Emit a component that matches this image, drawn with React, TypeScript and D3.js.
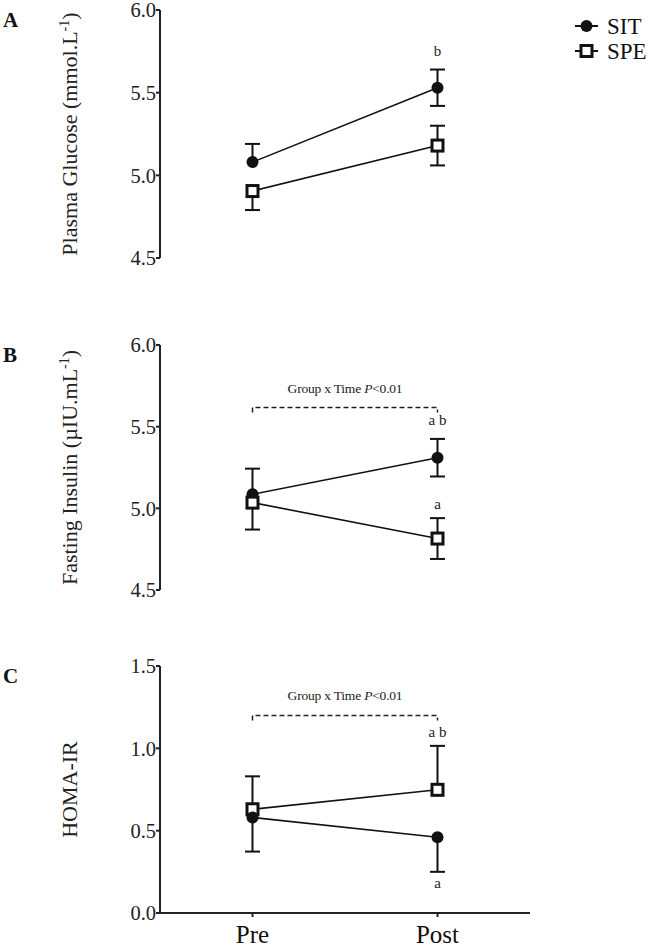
import React from "react";
import * as d3 from "d3";

const categories = ["Pre", "Post"];

// Panel A – Plasma glucose
const glucoseSIT = [5.08, 5.53];
const glucoseSITErr = [0.11, 0.11];
const glucoseSITDir = ["up", "both"];
const glucoseSPE = [4.905, 5.18];
const glucoseSPEErr = [0.115, 0.12];
const glucoseSPEDir = ["down", "both"];
const glucoseTicks = [4.5, 5.0, 5.5, 6.0];

// Panel B – Fasting insulin
const insulinSIT = [5.086, 5.31];
const insulinSITErr = [0.157, 0.115];
const insulinSITDir = ["up", "both"];
const insulinSPE = [5.035, 4.815];
const insulinSPEErr = [0.165, 0.125];
const insulinSPEDir = ["down", "both"];
const insulinTicks = [4.5, 5.0, 5.5, 6.0];

// Panel C – HOMA-IR
const homaSIT = [0.58, 0.46];
const homaSITErr = [0.207, 0.21];
const homaSITDir = ["down", "down"];
const homaSPE = [0.63, 0.748];
const homaSPEErr = [0.2, 0.267];
const homaSPEDir = ["up", "up"];
const homaTicks = [0.0, 0.5, 1.0, 1.5];

const SERIF = "'Liberation Serif', 'Times New Roman', serif";

type Panel = {
  letter: string;
  top: number;
  bottom: number;
  domain: [number, number];
  ticks: number[];
  sit: number[]; sitErr: number[]; sitDir: string[];
  spe: number[]; speErr: number[]; speDir: string[];
  bracket: number | null;
  sitLabels: (string | null)[];
  speLabels: (string | null)[];
  sitLabelBelow?: boolean;
  sitOnTop?: boolean;
  xAxis: boolean;
};

const panels: Panel[] = [
  {
    letter: "A", top: 10, bottom: 258, domain: [4.5, 6.0], ticks: glucoseTicks,
    sit: glucoseSIT, sitErr: glucoseSITErr, sitDir: glucoseSITDir,
    spe: glucoseSPE, speErr: glucoseSPEErr, speDir: glucoseSPEDir,
    bracket: null, sitLabels: [null, "b"], speLabels: [null, null], xAxis: false,
  },
  {
    letter: "B", top: 345, bottom: 590, domain: [4.5, 6.0], ticks: insulinTicks,
    sit: insulinSIT, sitErr: insulinSITErr, sitDir: insulinSITDir,
    spe: insulinSPE, speErr: insulinSPEErr, speDir: insulinSPEDir,
    bracket: 5.617, sitLabels: [null, "a b"], speLabels: [null, "a"], xAxis: false,
  },
  {
    letter: "C", top: 666, bottom: 913, domain: [0, 1.5], ticks: homaTicks,
    sit: homaSIT, sitErr: homaSITErr, sitDir: homaSITDir,
    spe: homaSPE, speErr: homaSPEErr, speDir: homaSPEDir,
    bracket: 1.2, sitLabels: [null, "a"], speLabels: [null, "a b"], sitLabelBelow: true, sitOnTop: true, xAxis: true,
  },
];

const yLabels = [
  <>Plasma Glucose (mmol.L<tspan dy={-8} fontSize={14}>-1</tspan><tspan dy={8}>)</tspan></>,
  <>Fasting Insulin (µIU.mL<tspan dy={-8} fontSize={14}>-1</tspan><tspan dy={8}>)</tspan></>,
  <>HOMA-IR</>,
];

const AXIS_X = 160;
const AXIS_END = 530;

const x = d3.scalePoint<string>().domain(categories).range([AXIS_X, AXIS_END]).padding(0.5);

function ErrorBar({ cx, y, mean, err, dir }: { cx: number; y: d3.ScaleLinear<number, number>; mean: number; err: number; dir: string }) {
  const segs: JSX.Element[] = [];
  const cap = 7.5;
  if (dir === "up" || dir === "both") {
    const yy = y(mean + err);
    segs.push(<line key="u" x1={cx} x2={cx} y1={y(mean)} y2={yy} stroke="#111" strokeWidth={2} />);
    segs.push(<line key="uc" x1={cx - cap} x2={cx + cap} y1={yy} y2={yy} stroke="#111" strokeWidth={2} />);
  }
  if (dir === "down" || dir === "both") {
    const yy = y(mean - err);
    segs.push(<line key="d" x1={cx} x2={cx} y1={y(mean)} y2={yy} stroke="#111" strokeWidth={2} />);
    segs.push(<line key="dc" x1={cx - cap} x2={cx + cap} y1={yy} y2={yy} stroke="#111" strokeWidth={2} />);
  }
  return <g>{segs}</g>;
}

function Circle({ cx, cy }: { cx: number; cy: number }) {
  return <circle cx={cx} cy={cy} r={6} fill="#111" />;
}
function Square({ cx, cy }: { cx: number; cy: number }) {
  const s = 11;
  return <rect x={cx - s / 2} y={cy - s / 2} width={s} height={s} fill="#fff" stroke="#111" strokeWidth={3} />;
}

function PanelView({ p, idx }: { p: Panel; idx: number }) {
  const y = d3.scaleLinear().domain(p.domain).range([p.bottom, p.top]);
  const line = d3.line<number>().x((_, i) => x(categories[i])!).y((v) => y(v));
  const midY = (p.top + p.bottom) / 2;
  const xPre = x(categories[0])!;
  const xPost = x(categories[1])!;
  const circles = p.sit.map((v, i) => <Circle key={"sc" + i} cx={x(categories[i])!} cy={y(v)} />);
  const squares = p.spe.map((v, i) => <Square key={"ps" + i} cx={x(categories[i])!} cy={y(v)} />);
  return (
    <g>
      <text x={3} y={p.top + 17} fontFamily={SERIF} fontWeight="bold" fontSize={21} fill="#111">{p.letter}</text>
      <text transform={`translate(77,${midY}) rotate(-90)`} textAnchor="middle" fontFamily={SERIF} fontSize={22} fill="#222">
        {yLabels[idx]}
      </text>
      {/* y axis */}
      <line x1={AXIS_X} x2={AXIS_X} y1={p.top} y2={p.bottom} stroke="#222" strokeWidth={2} />
      {p.ticks.map((t) => (
        <g key={t}>
          <line x1={AXIS_X - 4} x2={AXIS_X} y1={y(t)} y2={y(t)} stroke="#222" strokeWidth={2} />
          <text x={AXIS_X - 4} y={y(t)} dy="0.35em" textAnchor="end" fontFamily={SERIF} fontSize={20.5} fill="#222">
            {d3.format(".1f")(t)}
          </text>
        </g>
      ))}
      {p.xAxis && (
        <g>
          <line x1={AXIS_X - 1} x2={AXIS_END} y1={p.bottom} y2={p.bottom} stroke="#222" strokeWidth={2} />
          {categories.map((c) => (
            <g key={c}>
              <line x1={x(c)!} x2={x(c)!} y1={p.bottom} y2={p.bottom + 4} stroke="#222" strokeWidth={2} />
              <text x={x(c)!} y={p.bottom + 30} textAnchor="middle" fontFamily={SERIF} fontSize={25} fill="#111">{c}</text>
            </g>
          ))}
        </g>
      )}
      {p.bracket !== null && (
        <g>
          <path
            d={`M${xPre},${y(p.bracket) + 5}V${y(p.bracket)}H${xPost}V${y(p.bracket) + 5}`}
            fill="none" stroke="#222" strokeWidth={1.5} strokeDasharray="5,3"
          />
          <text x={(xPre + xPost) / 2} y={y(p.bracket) - 15} textAnchor="middle" fontFamily={SERIF} fontSize={13.5} letterSpacing={-0.2} fill="#222">
            Group x Time <tspan fontStyle="italic">P</tspan>&lt;0.01
          </text>
        </g>
      )}
      <path d={line(p.sit)!} fill="none" stroke="#111" strokeWidth={1.6} />
      <path d={line(p.spe)!} fill="none" stroke="#111" strokeWidth={1.6} />
      {p.sit.map((v, i) => (
        <ErrorBar key={"se" + i} cx={x(categories[i])!} y={y} mean={v} err={p.sitErr[i]} dir={p.sitDir[i]} />
      ))}
      {p.spe.map((v, i) => (
        <ErrorBar key={"pe" + i} cx={x(categories[i])!} y={y} mean={v} err={p.speErr[i]} dir={p.speDir[i]} />
      ))}
      {p.sitOnTop ? <>{squares}{circles}</> : <>{circles}{squares}</>}
      {p.sit.map((v, i) => {
        const lab = p.sitLabels[i];
        if (!lab) return null;
        const ty = p.sitLabelBelow
          ? y(v - p.sitErr[i]) + 16
          : y(v + (p.sitDir[i] === "down" ? 0 : p.sitErr[i])) - 14;
        return <text key={"sl" + i} x={x(categories[i])!} y={ty} textAnchor="middle" fontFamily={SERIF} fontSize={15} fill="#222">{lab}</text>;
      })}
      {p.spe.map((v, i) => {
        const lab = p.speLabels[i];
        if (!lab) return null;
        const ty = y(v + (p.speDir[i] === "down" ? 0 : p.speErr[i])) - 9;
        return <text key={"pl" + i} x={x(categories[i])!} y={ty} textAnchor="middle" fontFamily={SERIF} fontSize={15} fill="#222">{lab}</text>;
      })}
    </g>
  );
}

export default function App() {
  return (
    <div style={{ position: "absolute", left: 0, top: 0, width: 663, height: 952, background: "#fff" }}>
      <svg width={663} height={952} viewBox="0 0 663 952">
        <rect width={663} height={952} fill="#fff" />
        {panels.map((p, i) => <PanelView key={p.letter} p={p} idx={i} />)}
        {/* legend */}
        <g>
          <line x1={575} x2={598} y1={26} y2={26} stroke="#111" strokeWidth={2} />
          <Circle cx={586.5} cy={26} />
          <text x={607} y={34} fontFamily={SERIF} fontSize={23} fill="#111">SIT</text>
          <line x1={575} x2={598} y1={51} y2={51} stroke="#111" strokeWidth={2} />
          <Square cx={586.5} cy={51} />
          <text x={607} y={59} fontFamily={SERIF} fontSize={23} fill="#111">SPE</text>
        </g>
      </svg>
    </div>
  );
}
